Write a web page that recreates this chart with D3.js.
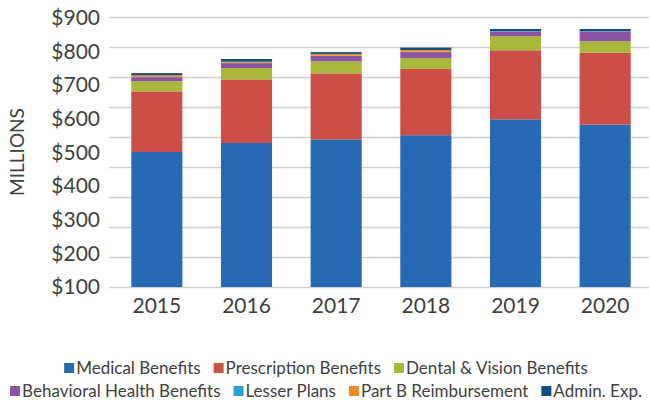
<!DOCTYPE html>
<html>
<head>
<meta charset="utf-8">
<script src="https://cdn.jsdelivr.net/npm/d3@7"></script>
<style>
  body { margin: 0; background: #fff; }
  text { font-family: Lato, "Open Sans", sans-serif; fill: #404040; }
</style>
</head>
<body>
<div id="chart"></div>
<script>
var years = ["2015", "2016", "2017", "2018", "2019", "2020"];
var medical      = [450, 480, 492, 506, 559, 541];
var prescription = [202, 212, 220, 221, 230, 240];
var dental       = [34, 38, 40, 36, 47, 38];
var behavioral   = [13, 16, 18, 20, 16, 33];
var lesser       = [1, 1, 1, 1, 1, 1];
var partB        = [6, 4, 6, 6, 0, 0];
var admin        = [7, 9, 6, 8, 7, 7];
var yTickLabels  = ["$100", "$200", "$300", "$400", "$500", "$600", "$700", "$800", "$900"];

var seriesNames = ["Medical Benefits", "Prescription Benefits", "Dental & Vision Benefits",
    "Behavioral Health Benefits", "Lesser Plans", "Part B Reimbursement", "Admin. Exp."];
var seriesValues = [medical, prescription, dental, behavioral, lesser, partB, admin];
var colors = ["#2869b3", "#cb4e47", "#a9b73a", "#8d53a3", "#2a9fd8", "#ec8a2a", "#124d7c"];

var width = 650, height = 404;

var svg = d3.select("#chart")
    .append("svg")
        .attr("width", width)
        .attr("height", height);

// build rows for the stack
var rows = years.map(function(yr, i) {
    var r = {year: yr};
    seriesNames.forEach(function(n, k) { r[n] = seriesValues[k][i]; });
    return r;
});
var stacked = d3.stack().keys(seriesNames)(rows);

var x = d3.scaleBand()
    .domain(years)
    .range([112, 650])
    .paddingInner(0.43)
    .paddingOuter(0.215);

var y = d3.scaleLinear()
    .domain([0, 900])
    .range([287, 17]);

// labels sit on their own even spacing, as in the picture
var yLab = d3.scaleLinear()
    .domain([100, 900])
    .range([287, 18]);

// gridlines
svg.append("g")
    .attr("transform", "translate(109,0)")
    .call(d3.axisLeft(y).tickValues(d3.range(0, 901, 100)).tickSize(-540).tickFormat(""))
    .call(function(g) { g.select(".domain").remove(); })
    .selectAll("line")
        .attr("stroke", "#cfcfcf")
        .attr("stroke-width", 1.5);

// y labels
svg.append("g")
    .attr("transform", "translate(100,0)")
    .call(d3.axisLeft(yLab).tickValues(d3.range(100, 901, 100))
        .tickSize(0).tickPadding(0)
        .tickFormat(function(d, i) { return yTickLabels[i]; }))
    .call(function(g) { g.select(".domain").remove(); })
    .selectAll("text")
        .style("font-size", "21px")
        .style("fill", "#404040");

svg.append("text")
    .attr("transform", "translate(24,152) rotate(-90)")
    .attr("text-anchor", "middle")
    .style("font-size", "19px")
    .text("MILLIONS");

// bars
svg.append("g")
    .selectAll("g")
    .data(stacked)
    .enter()
    .append("g")
        .attr("fill", function(d, i) { return colors[i]; })
    .selectAll("rect")
    .data(function(d) { return d; })
    .enter()
    .append("rect")
        .attr("x", function(d) { return x(d.data.year); })
        .attr("y", function(d) { return y(d[1]); })
        .attr("width", x.bandwidth())
        .attr("height", function(d) { return y(d[0]) - y(d[1]); });

// x axis
svg.append("g")
    .attr("transform", "translate(0,287)")
    .call(d3.axisBottom(x).tickSize(0).tickPadding(11))
    .call(function(g) { g.select(".domain").remove(); })
    .selectAll("text")
        .style("font-size", "21px")
        .style("fill", "#404040");

// legend, two centred rows
var legendRows = [[0, 1, 2], [3, 4, 5, 6]];
var legendY = [368, 391];
var sq = 10, gapText = 2, gapItem = 13;

legendRows.forEach(function(items, r) {
    var g = svg.append("g");
    var cx = 0;
    items.forEach(function(k) {
        g.append("rect")
            .attr("x", cx)
            .attr("y", legendY[r] - sq / 2)
            .attr("width", sq)
            .attr("height", sq)
            .attr("fill", colors[k]);
        var t = g.append("text")
            .attr("x", cx + sq + gapText)
            .attr("y", legendY[r])
            .attr("dy", "0.35em")
            .style("font-size", "17px")
            .text(seriesNames[k]);
        cx += sq + gapText + t.node().getComputedTextLength() + gapItem;
    });
    var total = cx - gapItem;
    g.attr("transform", "translate(" + (326 - total / 2) + ",0)");
});
</script>
</body>
</html>
